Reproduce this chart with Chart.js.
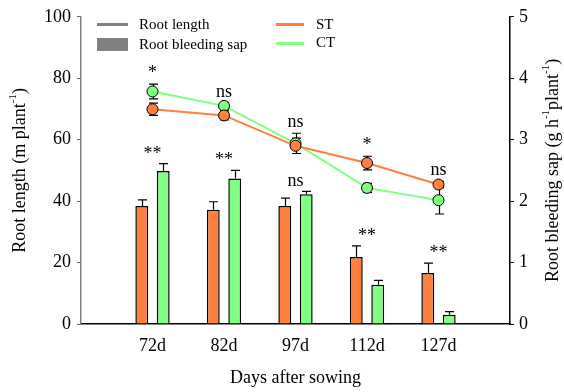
<!DOCTYPE html>
<html>
<head>
<meta charset="utf-8">
<script src="https://cdn.jsdelivr.net/npm/chart.js@4/dist/chart.umd.min.js"></script>
<style>
  html, body { margin: 0; padding: 0; background: #fff; }
  canvas { display: block; }
</style>
</head>
<body>
<canvas id="chart" width="564" height="392"></canvas>
<script>
// ── Data ───────────────────────────────────────────────────────────────────
// blank slots at both ends leave the empty margin seen left/right of the groups
const days = ['', '72d', '82d', '97d', '112d', '127d', ''];

// root length, m plant-1 (left axis)
const lengthST    = [null, 69.9, 67.9, 58.0, 52.4, 45.4, null];
const lengthSTErr = [null, 2.0, 1.5, 2.5, 2.2, 1.0, null];
const lengthCT    = [null, 75.7, 71.0, 58.8, 44.3, 40.3, null];
const lengthCTErr = [null, 2.4, 1.0, 3.3, 1.5, 4.5, null];

// root bleeding sap, g h-1 plant-1 (right axis)
const sapST    = [null, 1.92, 1.86, 1.92, 1.09, 0.83, null];
const sapSTErr = [null, 0.10, 0.13, 0.13, 0.18, 0.16, null];
const sapCT    = [null, 2.49, 2.37, 2.11, 0.64, 0.15, null];
const sapCTErr = [null, 0.12, 0.13, 0.05, 0.07, 0.05, null];

// significance marks
const lengthSig = ['', '*', 'ns', 'ns', '*', 'ns', ''];
const sapSig    = ['', '**', '**', 'ns', '**', '**', ''];

const ORANGE = '#ff7f3f';
const GREEN  = '#80ff80';
const FONT   = '"Liberation Serif", "Times New Roman", serif';

// ── Helpers ────────────────────────────────────────────────────────────────
// draws text pieces with superscripts, centred on (0,0) of the current transform
function drawRich(ctx, parts, size) {
  const supSize = Math.round(size * 0.62);
  let total = 0;
  const widths = parts.map(p => {
    ctx.font = `${p.sup ? supSize : size}px ${FONT}`;
    const w = ctx.measureText(p.t).width;
    total += w;
    return w;
  });
  let x = -total / 2;
  ctx.textBaseline = 'middle';
  ctx.textAlign = 'left';
  parts.forEach((p, i) => {
    ctx.font = `${p.sup ? supSize : size}px ${FONT}`;
    ctx.fillText(p.t, x, p.sup ? -size * 0.38 : 0);
    x += widths[i];
  });
}

// ── Plugins ────────────────────────────────────────────────────────────────
const errorBars = {
  id: 'errorBars',
  beforeDatasetsDraw(chart) {
    const ctx = chart.ctx;
    const sets = [
      { ds: 0, vals: lengthST, errs: lengthSTErr, upOnly: false },
      { ds: 1, vals: lengthCT, errs: lengthCTErr, upOnly: false },
      { ds: 2, vals: sapST,    errs: sapSTErr,    upOnly: true },
      { ds: 3, vals: sapCT,    errs: sapCTErr,    upOnly: true },
    ];
    ctx.save();
    ctx.strokeStyle = '#000';
    ctx.lineWidth = 1.2;
    sets.forEach(s => {
      const meta = chart.getDatasetMeta(s.ds);
      const yScale = chart.scales[meta.yAxisID];
      meta.data.forEach((el, i) => {
        if (s.vals[i] == null) return;
        const x = Math.round(el.x) + 0.5;
        const top = yScale.getPixelForValue(s.vals[i] + s.errs[i]);
        const bot = yScale.getPixelForValue(s.upOnly ? s.vals[i] : s.vals[i] - s.errs[i]);
        ctx.beginPath();
        ctx.moveTo(x, top); ctx.lineTo(x, bot);
        ctx.moveTo(x - 4.5, top); ctx.lineTo(x + 4.5, top);
        if (!s.upOnly) { ctx.moveTo(x - 4.5, bot); ctx.lineTo(x + 4.5, bot); }
        ctx.stroke();
      });
    });
    ctx.restore();
  },
};

const decorations = {
  id: 'decorations',
  afterDraw(chart) {
    const ctx = chart.ctx;
    const { x, y, y2 } = chart.scales;
    ctx.save();
    ctx.fillStyle = '#000';

    // significance labels
    ctx.font = `18px ${FONT}`;
    ctx.textAlign = 'center';
    ctx.textBaseline = 'alphabetic';
    days.forEach((d, i) => {
      if (!d) return;
      const cx = x.getPixelForValue(i);
      const lTop = Math.min(y.getPixelForValue(lengthST[i] + lengthSTErr[i]),
                            y.getPixelForValue(lengthCT[i] + lengthCTErr[i]));
      ctx.fillText(lengthSig[i], cx, lTop - 6);
      const bTop = Math.min(y2.getPixelForValue(sapST[i] + sapSTErr[i]),
                            y2.getPixelForValue(sapCT[i] + sapCTErr[i]));
      ctx.fillText(sapSig[i], cx, bTop - 5);
    });

    // legend
    ctx.font = `15px ${FONT}`;
    ctx.textAlign = 'left';
    ctx.textBaseline = 'middle';
    ctx.fillStyle = '#808080';
    ctx.fillRect(97, 23, 31, 3);
    ctx.fillRect(97, 38, 31, 13);
    ctx.fillStyle = ORANGE;
    ctx.fillRect(276, 23, 28, 3);
    ctx.fillStyle = GREEN;
    ctx.fillRect(276, 42, 28, 3);
    ctx.fillStyle = '#000';
    ctx.fillText('Root length', 139, 25);
    ctx.fillText('Root bleeding sap', 139, 45);
    ctx.fillText('ST', 316, 25);
    ctx.fillText('CT', 316, 43);

    // axis titles
    const midY = (chart.chartArea.top + chart.chartArea.bottom) / 2;
    ctx.save();
    ctx.translate(20, midY);
    ctx.rotate(-Math.PI / 2);
    drawRich(ctx, [{ t: 'Root length (m plant' }, { t: '-1', sup: true }, { t: ')' }], 18);
    ctx.restore();

    ctx.save();
    ctx.translate(553, midY);
    ctx.rotate(-Math.PI / 2);
    drawRich(ctx, [{ t: 'Root bleeding sap (g h' }, { t: '-1', sup: true },
                   { t: 'plant' }, { t: '-1', sup: true }, { t: ')' }], 18);
    ctx.restore();

    ctx.font = `18px ${FONT}`;
    ctx.textAlign = 'center';
    ctx.textBaseline = 'middle';
    ctx.fillText('Days after sowing', (chart.chartArea.left + chart.chartArea.right) / 2, 378);
    ctx.restore();
  },
};

// ── Chart ──────────────────────────────────────────────────────────────────
const tickFont = { family: FONT, size: 18 };

new Chart(document.getElementById('chart'), {
  type: 'bar',
  data: {
    labels: days,
    datasets: [
      {
        type: 'line', label: 'ST', data: lengthST, yAxisID: 'y', order: 0,
        borderColor: ORANGE, borderWidth: 2,
        pointBackgroundColor: ORANGE, pointBorderColor: '#000',
        pointBorderWidth: 1, pointRadius: 5.5,
      },
      {
        type: 'line', label: 'CT', data: lengthCT, yAxisID: 'y', order: 0,
        borderColor: GREEN, borderWidth: 2,
        pointBackgroundColor: GREEN, pointBorderColor: '#000',
        pointBorderWidth: 1, pointRadius: 5.5,
      },
      {
        label: 'ST sap', data: sapST, yAxisID: 'y2', order: 1,
        backgroundColor: ORANGE, borderColor: '#000', borderWidth: 1.5,
        categoryPercentage: 0.6, barPercentage: 0.6,
      },
      {
        label: 'CT sap', data: sapCT, yAxisID: 'y2', order: 1,
        backgroundColor: GREEN, borderColor: '#000', borderWidth: 1.5,
        categoryPercentage: 0.6, barPercentage: 0.6,
      },
    ],
  },
  options: {
    responsive: false,
    animation: false,
    layout: { padding: { top: 16, left: 0, right: 0, bottom: 0 } },
    plugins: { legend: { display: false }, tooltip: { enabled: false } },
    scales: {
      x: {
        offset: false,
        grid: { display: false },
        border: { color: '#000', width: 1.5 },
        ticks: { font: tickFont, color: '#000', padding: 3, autoSkip: false, maxRotation: 0 },
        afterFit: s => { s.height = 68; },
      },
      y: {
        position: 'left', min: 0, max: 100,
        grid: { drawOnChartArea: false, tickLength: 4, color: '#666' },
        border: { color: '#808080', width: 1.5 },
        ticks: { stepSize: 20, font: tickFont, color: '#000', padding: 6 },
        afterFit: s => { s.width = 81; },
      },
      y2: {
        position: 'right', min: 0, max: 5,
        grid: { drawOnChartArea: false, tickLength: 4, color: '#000' },
        border: { color: '#000', width: 1.5 },
        ticks: { stepSize: 1, font: tickFont, color: '#000', padding: 5 },
        afterFit: s => { s.width = 54; },
      },
    },
  },
  plugins: [errorBars, decorations],
});
</script>
</body>
</html>
